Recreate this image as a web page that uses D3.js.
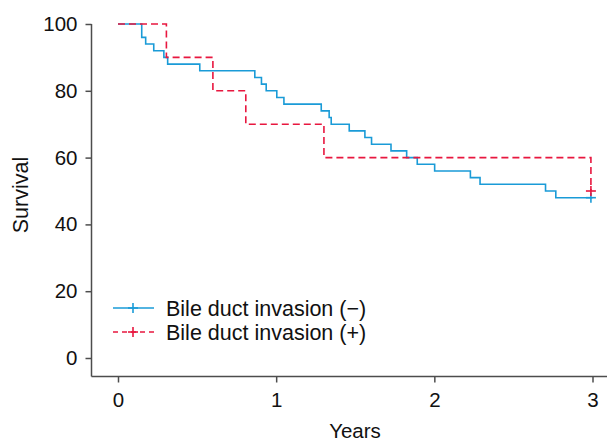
<!DOCTYPE html>
<html>
<head>
<meta charset="utf-8">
<script src="https://cdn.jsdelivr.net/npm/d3@7"></script>
<style>
body{margin:0;background:#fff;}
svg{display:block;font-family:"Liberation Sans",Arial,sans-serif;}
</style>
</head>
<body>
<svg id="chart" width="607" height="441"></svg>
<script>
// Kaplan-Meier steps (years, survival %)
let negTimes=[0,0.15,0.175,0.226,0.29,0.314,0.517,0.865,0.907,0.937,1.004,1.049,1.285,1.335,1.348,1.462,1.561,1.603,1.726,1.825,1.892,2.002,2.228,2.289,2.703,2.768,3.0];
let negSurv=[100,96,94,92,90,88,86,84,82,80,78,76,74,72,70,68,66,64,62,60,58,56,54,52,50,48,48];
let posTimes=[0,0.306,0.6,0.808,1.302,2.99];
let posSurv=[100,90,80,70,60,50];
let censNeg=[[2.99,48]];
let censPos=[[2.99,50]];
let xTicks=[0,1,2,3];
let yTicks=[0,20,40,60,80,100];
let legendLabels=["Bile duct invasion (\u2212)","Bile duct invasion (+)"];
let colors=["#1a9bd7","#e8173f"];

let svg=d3.select("#chart");
let x=d3.scaleLinear().domain([0,3]).range([118,592.5]);
let y=d3.scaleLinear().domain([0,100]).range([358,24]);
let axisCol="#4d4d4d";

// axes
let gy=svg.append("g").attr("transform","translate(91.5,0)")
  .call(d3.axisLeft(y).tickValues(yTicks).tickSize(6).tickPadding(8).tickSizeOuter(0));
gy.select(".domain").remove();
gy.selectAll("line").attr("stroke",axisCol).attr("stroke-width",1.5);
gy.selectAll("text").style("font-size","20.5px").attr("fill","#111");
svg.append("line").attr("x1",91.5).attr("x2",91.5).attr("y1",y(100)).attr("y2",376.5)
  .attr("stroke",axisCol).attr("stroke-width",1.5);

let gx=svg.append("g").attr("transform","translate(0,376.5)")
  .call(d3.axisBottom(x).tickValues(xTicks).tickFormat(d3.format("d")).tickSize(6).tickPadding(10).tickSizeOuter(0));
gx.select(".domain").remove();
gx.selectAll("line").attr("stroke",axisCol).attr("stroke-width",1.5);
gx.selectAll("text").style("font-size","20.5px").attr("fill","#111");
svg.append("line").attr("x1",91.5).attr("x2",607).attr("y1",376.5).attr("y2",376.5)
  .attr("stroke",axisCol).attr("stroke-width",1.5);

svg.append("text").text("Years").attr("x",355).attr("y",438).attr("text-anchor","middle")
  .style("font-size","20.5px").attr("fill","#111");
svg.append("text").text("Survival").attr("transform","translate(28,195) rotate(-90)")
  .attr("text-anchor","middle").style("font-size","21.5px").attr("fill","#111");

// curves
let line=d3.line().x(d=>x(d[0])).y(d=>y(d[1])).curve(d3.curveStepAfter);
let negPts=negTimes.map((t,i)=>[t,negSurv[i]]);
let posPts=posTimes.map((t,i)=>[t,posSurv[i]]);
svg.append("path").datum(negPts).attr("d",line).attr("fill","none")
  .attr("stroke",colors[0]).attr("stroke-width",1.6);
svg.append("path").datum(posPts).attr("d",line).attr("fill","none")
  .attr("stroke",colors[1]).attr("stroke-width",1.6).attr("stroke-dasharray","7,4");

function cross(g,cx,cy,col){
  g.append("line").attr("x1",cx-5).attr("x2",cx+5).attr("y1",cy).attr("y2",cy).attr("stroke",col).attr("stroke-width",1.6);
  g.append("line").attr("x1",cx).attr("x2",cx).attr("y1",cy-5).attr("y2",cy+5).attr("stroke",col).attr("stroke-width",1.6);
}
censNeg.forEach(c=>cross(svg,x(c[0]),y(c[1]),colors[0]));
censPos.forEach(c=>cross(svg,x(c[0]),y(c[1]),colors[1]));

// legend
let leg=svg.append("g");
legendLabels.forEach((lab,i)=>{
  let ly=308+i*24;
  let ln=leg.append("line").attr("x1",113).attr("x2",154).attr("y1",ly).attr("y2",ly)
    .attr("stroke",colors[i]).attr("stroke-width",1.6);
  if(i==1) ln.attr("stroke-dasharray","5,4");
  cross(leg,133,ly,colors[i]);
  leg.append("text").text(lab).attr("x",166).attr("y",ly+7.5)
    .style("font-size","21.5px").attr("fill","#111");
});
</script>
</body>
</html>
